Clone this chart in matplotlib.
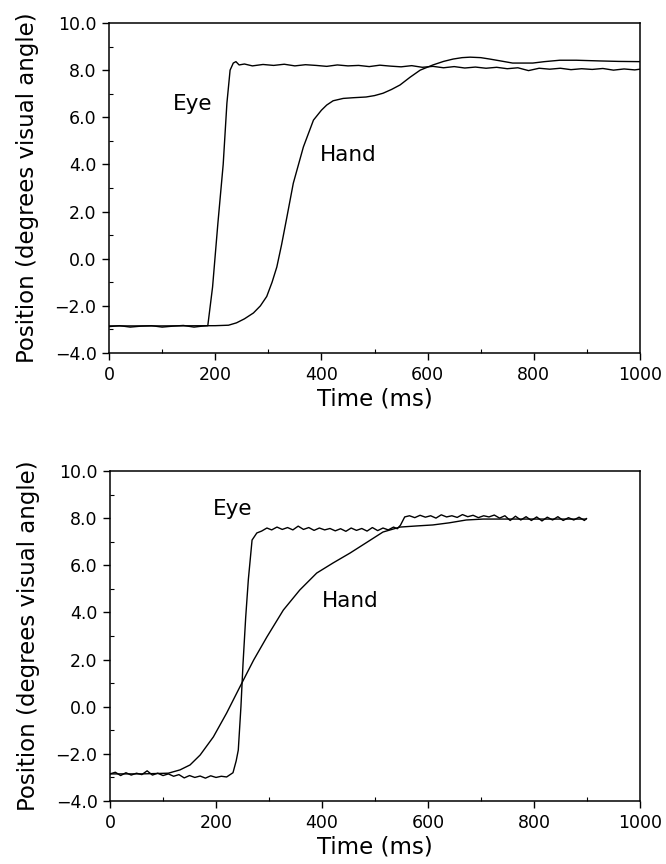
import matplotlib.pyplot as plt
from matplotlib.ticker import MultipleLocator, FuncFormatter

# top panel: eye and hand position
eye1_t = [0, 20, 40, 60, 80, 100, 120, 140, 160, 175, 186, 195, 205, 215, 222, 228,
          234, 239, 245, 255, 270, 290, 310, 330, 350, 370, 390, 410, 430, 450, 470,
          490, 510, 530, 550, 570, 590, 610, 630, 650, 670, 690, 710, 730, 750, 770,
          790, 810, 830, 850, 870, 890, 910, 930, 950, 970, 990, 1000]
eye1_y = [-2.88, -2.84, -2.9, -2.86, -2.84, -2.9, -2.86, -2.83, -2.9, -2.86, -2.84,
          -1.2, 1.5, 4.0, 6.6, 8.0, 8.3, 8.36, 8.22, 8.26, 8.18, 8.24, 8.2, 8.25, 8.18,
          8.23, 8.2, 8.16, 8.22, 8.18, 8.2, 8.15, 8.21, 8.17, 8.14, 8.19, 8.12, 8.16,
          8.1, 8.15, 8.09, 8.13, 8.08, 8.12, 8.06, 8.1, 7.98, 8.08, 8.04, 8.08, 8.02,
          8.06, 8.03, 8.07, 8.0, 8.05, 8.01, 8.04]

hand1_t = [0, 100, 200, 225, 240, 255, 272, 285, 297, 307, 316, 325, 335, 347, 366,
           385, 400, 410, 422, 441, 460, 484, 500, 516, 532, 548, 567, 586, 610, 630,
           648, 665, 680, 700, 717, 740, 760, 798, 820, 849, 880, 924, 960, 1000]
hand1_y = [-2.85, -2.85, -2.84, -2.82, -2.72, -2.55, -2.3, -2.0, -1.6, -1.0, -0.35,
           0.6, 1.77, 3.2, 4.74, 5.88, 6.3, 6.52, 6.7, 6.8, 6.83, 6.86, 6.92, 7.02,
           7.18, 7.37, 7.7, 8.0, 8.22, 8.37, 8.47, 8.53, 8.55, 8.53, 8.47, 8.38, 8.3,
           8.3, 8.36, 8.42, 8.42, 8.39, 8.37, 8.36]

# bottom panel
eye2_t = [0, 10, 20, 30, 40, 50, 60, 70, 80, 90, 100, 110, 120, 130, 140, 150, 160,
          170, 180, 190, 200, 210, 220, 232, 238, 242, 247, 251, 256, 261, 268, 277,
          286, 296, 305, 315, 325, 335, 345, 355, 365, 375, 385, 395, 405, 415, 425,
          435, 445, 455, 465, 475, 485, 495, 505, 515, 525, 535, 542, 548, 556, 565,
          575, 585, 595, 605, 615, 625, 635, 645, 655, 665, 675, 685, 695, 705, 715,
          725, 735, 745, 755, 765, 775, 785, 795, 805, 815, 825, 835, 845, 855, 865,
          875, 885, 895, 899]
eye2_y = [-2.85, -2.78, -2.92, -2.8, -2.9, -2.82, -2.88, -2.72, -2.9, -2.82, -2.92,
          -2.85, -2.95, -2.88, -3.02, -2.92, -3.0, -2.94, -3.03, -2.93, -3.0, -2.95,
          -2.98, -2.8, -2.3, -1.84, 0.0, 1.85, 3.8, 5.4, 7.07, 7.37, 7.45, 7.58, 7.5,
          7.62, 7.52, 7.6, 7.5, 7.66, 7.52, 7.6, 7.48, 7.58, 7.5, 7.56, 7.46, 7.55,
          7.44, 7.58, 7.48, 7.56, 7.45, 7.6, 7.47, 7.58, 7.5, 7.62, 7.55, 7.7, 8.05,
          8.1, 8.02, 8.12, 8.04, 8.1, 8.0, 8.14, 8.05, 8.1, 8.03, 8.15, 8.06, 8.12,
          8.02, 8.1, 8.05, 8.13, 8.0, 8.1, 7.9, 8.08, 7.92, 8.06, 7.9, 8.05, 7.88,
          8.04, 7.92, 8.06, 7.9, 8.02, 7.92, 8.04, 7.9, 7.98]

hand2_t = [0, 60, 110, 132, 151, 170, 195, 220, 245, 271, 296, 327, 358, 390, 421,
           453, 483, 515, 547, 580, 609, 640, 672, 704, 750, 800, 850, 898]
hand2_y = [-2.85, -2.85, -2.82, -2.68, -2.47, -2.05, -1.28, -0.27, 0.84, 1.98, 2.96,
           4.1, 4.95, 5.67, 6.1, 6.52, 6.95, 7.41, 7.62, 7.67, 7.71, 7.8, 7.92, 7.96,
           7.96, 7.96, 7.96, 7.96]

label_pos = [((120, 6.55), (397, 4.4)), ((194, 8.37), (400, 4.48))]


def fmt_pos(v, pos):
    return '{:.1f}'.format(v).replace('-', '\u2212')


fig = plt.figure(figsize=(6.66, 8.64), dpi=100)
ax1 = fig.add_axes([0.1637, 0.5914, 0.7973, 0.382])
ax2 = fig.add_axes([0.1652, 0.0729, 0.7958, 0.382])

panels = [(ax1, eye1_t, eye1_y, hand1_t, hand1_y),
          (ax2, eye2_t, eye2_y, hand2_t, hand2_y)]

for i, (ax, et, ey, ht, hy) in enumerate(panels):
    ax.plot(et, ey, color='black', linewidth=1.0)
    ax.plot(ht, hy, color='black', linewidth=1.0)
    ax.set_xlim(0, 1000)
    ax.set_ylim(-4, 10)
    ax.xaxis.set_major_locator(MultipleLocator(200))
    ax.xaxis.set_minor_locator(MultipleLocator(100))
    ax.yaxis.set_major_locator(MultipleLocator(2))
    ax.yaxis.set_minor_locator(MultipleLocator(1))
    ax.yaxis.set_major_formatter(FuncFormatter(fmt_pos))
    ax.tick_params(which='major', direction='out', length=5, width=1,
                   labelsize=12.5, pad=4)
    ax.tick_params(which='minor', direction='in', length=3, width=0.8)
    for s in ax.spines.values():
        s.set_linewidth(1.1)
    ax.set_xlabel('Time (ms)', fontsize=16.5, labelpad=3)
    ax.set_ylabel('Position (degrees visual angle)', fontsize=16.5, labelpad=11)
    (ex, eyy), (hx, hyy) = label_pos[i]
    ax.text(ex, eyy, 'Eye', fontsize=15.5, va='center', ha='left')
    ax.text(hx, hyy, 'Hand', fontsize=15.5, va='center', ha='left')

fig.savefig('out.png', dpi=100)
